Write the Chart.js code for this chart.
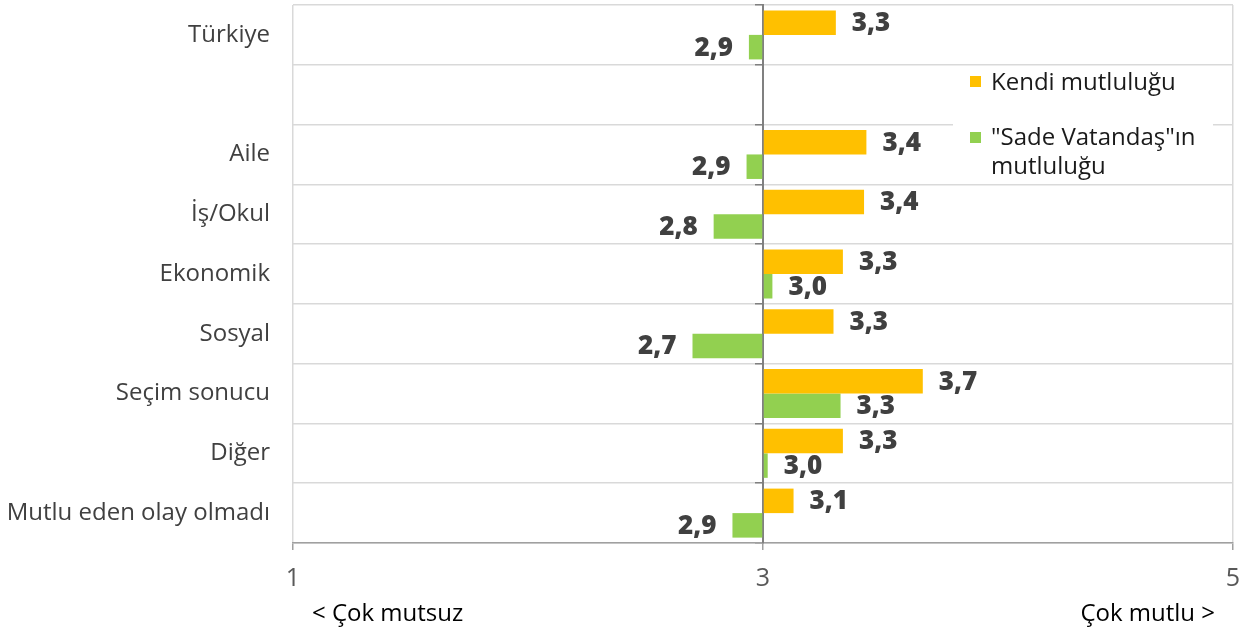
<!DOCTYPE html>
<html>
<head>
<meta charset="utf-8">
<script src="https://cdn.jsdelivr.net/npm/chart.js@4"></script>
<style>
  html, body { margin: 0; padding: 0; background: #fff; }
  #wrap { width: 1254px; height: 634px; position: relative; }
</style>
</head>
<body>
<div id="wrap"><canvas id="c"></canvas></div>
<script>
const categories = ['Türkiye', '', 'Aile', 'İş/Okul', 'Ekonomik', 'Sosyal', 'Seçim sonucu', 'Diğer', 'Mutlu eden olay olmadı'];
const kendiMutlulugu = [3.31, null, 3.44, 3.43, 3.34, 3.30, 3.68, 3.34, 3.13];
const sadeVatandasMutlulugu = [2.94, null, 2.93, 2.79, 3.04, 2.70, 3.33, 3.02, 2.87];
const seriesNames = ['Kendi mutluluğu', ['"Sade Vatandaş"ın', 'mutluluğu']];
const xTicks = [1, 3, 5];
const axisLabels = ['< Çok mutsuz', 'Çok mutlu >'];
const baseValue = 3;

const FONT = "'Open Sans', 'Liberation Sans', sans-serif";
const COLORS = ['#FFC000', '#92D050'];

const valueLabels = {
  id: 'valueLabels',
  afterDatasetsDraw(chart) {
    const ctx = chart.ctx;
    ctx.save();
    ctx.font = "800 26px " + FONT;
    ctx.fillStyle = '#404040';
    ctx.textBaseline = 'middle';
    chart.data.datasets.forEach((ds, di) => {
      const meta = chart.getDatasetMeta(di);
      meta.data.forEach((el, i) => {
        const v = ds.data[i];
        if (v === null || v === undefined) return;
        const txt = v.toFixed(1).replace('.', ',');
        if (v >= baseValue) {
          ctx.textAlign = 'left';
          ctx.fillText(txt, el.x + 16, el.y + 1);
        } else {
          ctx.textAlign = 'right';
          ctx.fillText(txt, el.x - 16, el.y + 1);
        }
      });
    });
    ctx.restore();
  }
};

const boxLegend = {
  id: 'boxLegend',
  beforeDatasetsDraw(chart) {
    const ctx = chart.ctx;
    const area = chart.chartArea;
    const left = area.right - 280, top = area.top + 61, w = 260, h = 117;
    ctx.save();
    ctx.fillStyle = '#ffffff';
    ctx.fillRect(left, top, w, h);
    ctx.font = "24px " + FONT;
    ctx.textBaseline = 'middle';
    ctx.textAlign = 'left';
    ctx.fillStyle = COLORS[0];
    ctx.fillRect(left + 17, top + 10, 11, 11);
    ctx.fillStyle = '#1a1a1a';
    ctx.fillText(seriesNames[0], left + 38, top + 17);
    ctx.fillStyle = COLORS[1];
    ctx.fillRect(left + 17, top + 66, 11, 11);
    ctx.fillStyle = '#1a1a1a';
    ctx.fillText(seriesNames[1][0], left + 38, top + 72);
    ctx.fillText(seriesNames[1][1], left + 38, top + 101);
    ctx.restore();
  }
};

const endLabels = {
  id: 'endLabels',
  afterDraw(chart) {
    const ctx = chart.ctx;
    const area = chart.chartArea;
    ctx.save();
    ctx.font = "500 24px " + FONT;
    ctx.fillStyle = '#000000';
    ctx.textBaseline = 'middle';
    ctx.textAlign = 'left';
    ctx.fillText(axisLabels[0], area.left + 19, 614);
    ctx.textAlign = 'right';
    ctx.fillText(axisLabels[1], area.right - 18, 614);
    ctx.restore();
  }
};

function noPad(scale) { scale.paddingTop = 0; scale.paddingBottom = 0; }

new Chart(document.getElementById('c'), {
  type: 'bar',
  data: {
    labels: categories,
    datasets: [
      { label: 'Kendi mutluluğu', data: kendiMutlulugu, backgroundColor: COLORS[0], base: baseValue,
        categoryPercentage: 0.82, barPercentage: 1.0 },
      { label: '"Sade Vatandaş"ın mutluluğu', data: sadeVatandasMutlulugu, backgroundColor: COLORS[1], base: baseValue,
        categoryPercentage: 0.82, barPercentage: 1.0 }
    ]
  },
  options: {
    indexAxis: 'y',
    responsive: true,
    maintainAspectRatio: false,
    animation: false,
    layout: { padding: { top: 5, right: 21, left: 0, bottom: 0 } },
    plugins: { legend: { display: false }, tooltip: { enabled: false } },
    scales: {
      x: {
        type: 'linear',
        min: 1, max: 5,
        afterBuildTicks(scale) { scale.ticks = xTicks.map(v => ({ value: v })); },
        afterFit(scale) { scale.height = 91; scale.paddingLeft = 0; scale.paddingRight = 0; },
        ticks: { font: { family: FONT, size: 25 }, color: '#595959', padding: 14 },
        grid: { color: '#d9d9d9', lineWidth: 1.5, tickColor: '#a0a0a0', tickLength: 7 },
        border: { color: '#a0a0a0', width: 1.5 }
      },
      y: {
        type: 'category',
        afterFit(scale) { scale.width = 293; noPad(scale); },
        ticks: { font: { family: FONT, size: 24 }, color: '#404040', padding: 23, autoSkip: false },
        grid: { color: '#d9d9d9', lineWidth: 1.5, offset: true, drawTicks: false },
        border: { display: false }
      },
      y2: {
        type: 'category',
        axis: 'y',
        position: { x: baseValue },
        afterFit(scale) { noPad(scale); },
        ticks: { display: false },
        grid: { drawOnChartArea: false, offset: true, tickLength: 7, tickColor: '#808080', lineWidth: 1.5 },
        border: { color: '#808080', width: 2 }
      }
    }
  },
  plugins: [valueLabels, boxLegend, endLabels]
});
</script>
</body>
</html>
